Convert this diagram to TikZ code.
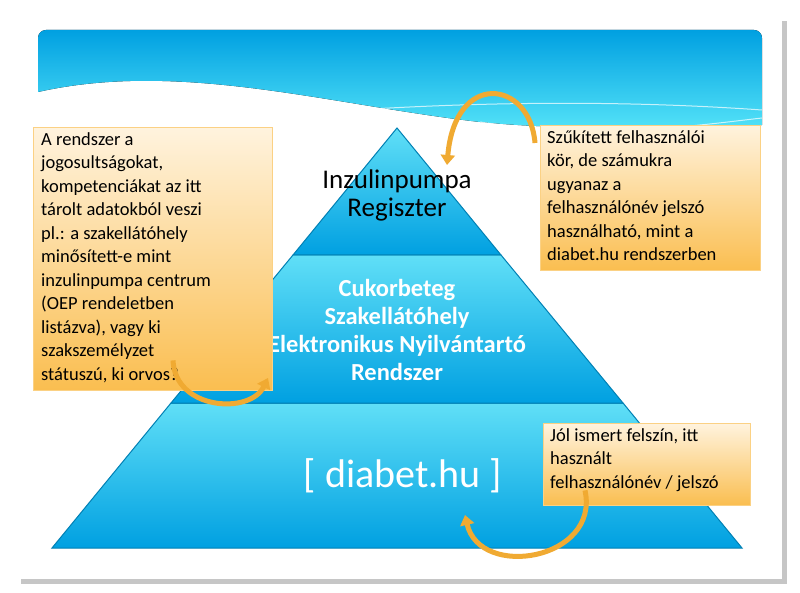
\documentclass[tikz,border=0pt]{standalone}
\usepackage{fontspec}
\setmainfont{Carlito}
\usetikzlibrary{arrows.meta,shadows}
\definecolor{skyblue}{RGB}{0,160,225}
\definecolor{paleblue}{RGB}{120,215,245}
\definecolor{notebg}{RGB}{255,243,222}
\definecolor{noteorange}{RGB}{250,190,80}
\definecolor{arroworange}{RGB}{240,170,50}
\tikzset{
  note/.style={draw=noteorange!70, top color=notebg, bottom color=noteorange, align=left,
    anchor=north west, inner sep=6pt, font=\fontsize{18.5}{23.5}\selectfont},
  notetext/.style={anchor=north west, align=left, inner sep=0pt, font=\fontsize{18.5}{23.5}\selectfont},
  tier/.style={draw=skyblue!80!black, line width=1pt, top color=paleblue!80!cyan, bottom color=skyblue},
  curvearrow/.style={arroworange, line width=5pt, -{Triangle[width=14pt,length=10pt]}},
}
\begin{document}
\begin{tikzpicture}[x=1pt,y=-1pt]
  \useasboundingbox (0,0) rectangle (800,593);
  % card and banner
  \fill[gray!45] (21,21) rectangle (787,584);
  \fill[white] (17,17) rectangle (782,579);
  \fill[top color=skyblue, bottom color=paleblue!70!cyan]
    (38,42) [rounded corners=8pt] -- (38,30) -- (762,30) [sharp corners] -- (762,125)
    .. controls (650,128) and (560,130) .. (480,122)
    .. controls (330,105) and (180,60) .. (38,92) -- cycle;
  \draw[white, line width=1pt, opacity=0.7] (250,118) .. controls (450,100) and (620,100) .. (762,110);
  \draw[white, line width=1pt, opacity=0.7] (480,122) .. controls (600,140) and (700,125) .. (762,118);

  % pyramid
  \path
    coordinate (apex)  at (397,128)
    coordinate (topl)  at (293,255)
    coordinate (topr)  at (501,255)
    coordinate (midl)  at (171,403)
    coordinate (midr)  at (623,403)
    coordinate (basel) at (52,548)
    coordinate (baser) at (742,548)
  ;
  \draw[tier] (midl) -- (midr) -- (baser) -- (basel) -- cycle;
  \draw[tier] (topl) -- (topr) -- (midr) -- (midl) -- cycle;
  \draw[tier] (apex) -- (topr) -- (topl) -- cycle;

  \node[align=center, font=\fontsize{27}{28}\selectfont] (register) at (397,195) {Inzulinpumpa\\Regiszter};
  \node[align=center, white, font=\bfseries\fontsize{24.5}{28}\selectfont] (nyilvantarto) at (397,330)
    {Cukorbeteg\\Szakellátóhely\\Elektronikus Nyilvántartó\\Rendszer};
  \node[white, font=\fontsize{40}{44}\selectfont] (diabet) at (403,476) {[ diabet.hu ]};

  % notes
  \node[note, minimum width=239pt, minimum height=263pt] (jogok) at (33,127) {};
  \node[notetext] at (41,132)
    {A rendszer a\\jogosultságokat,\\kompetenciákat az itt\\tárolt adatokból veszi\\pl.: a szakellátóhely\\minősített-e mint\\inzulinpumpa centrum\\(OEP rendeletben\\listázva), vagy ki\\szakszemélyzet\\státuszú, ki orvos?};
  \node[note, minimum width=220pt, minimum height=145pt] (szukitett) at (540,125) {};
  \node[notetext] at (547,130)
    {Szűkített felhasználói\\kör, de számukra\\ugyanaz a\\felhasználónév jelszó\\használható, mint a\\diabet.hu rendszerben};
  \node[note, minimum width=207pt, minimum height=82pt] (ismert) at (543,423) {};
  \node[notetext] at (550,428)
    {Jól ismert felszín, itt\\használt\\felhasználónév / jelszó};

  % arrows
  \draw[curvearrow] (szukitett.north west) ++(-5,18) .. controls (530,80) and (455,70) .. (447,165);
  \draw[curvearrow] (jogok.south west) ++(140,-30) .. controls (175,410) and (250,415) .. (268,378);
  \draw[curvearrow] (ismert.south west) ++(42,-15) .. controls (600,560) and (480,580) .. (465,515);
\end{tikzpicture}
\end{document}
